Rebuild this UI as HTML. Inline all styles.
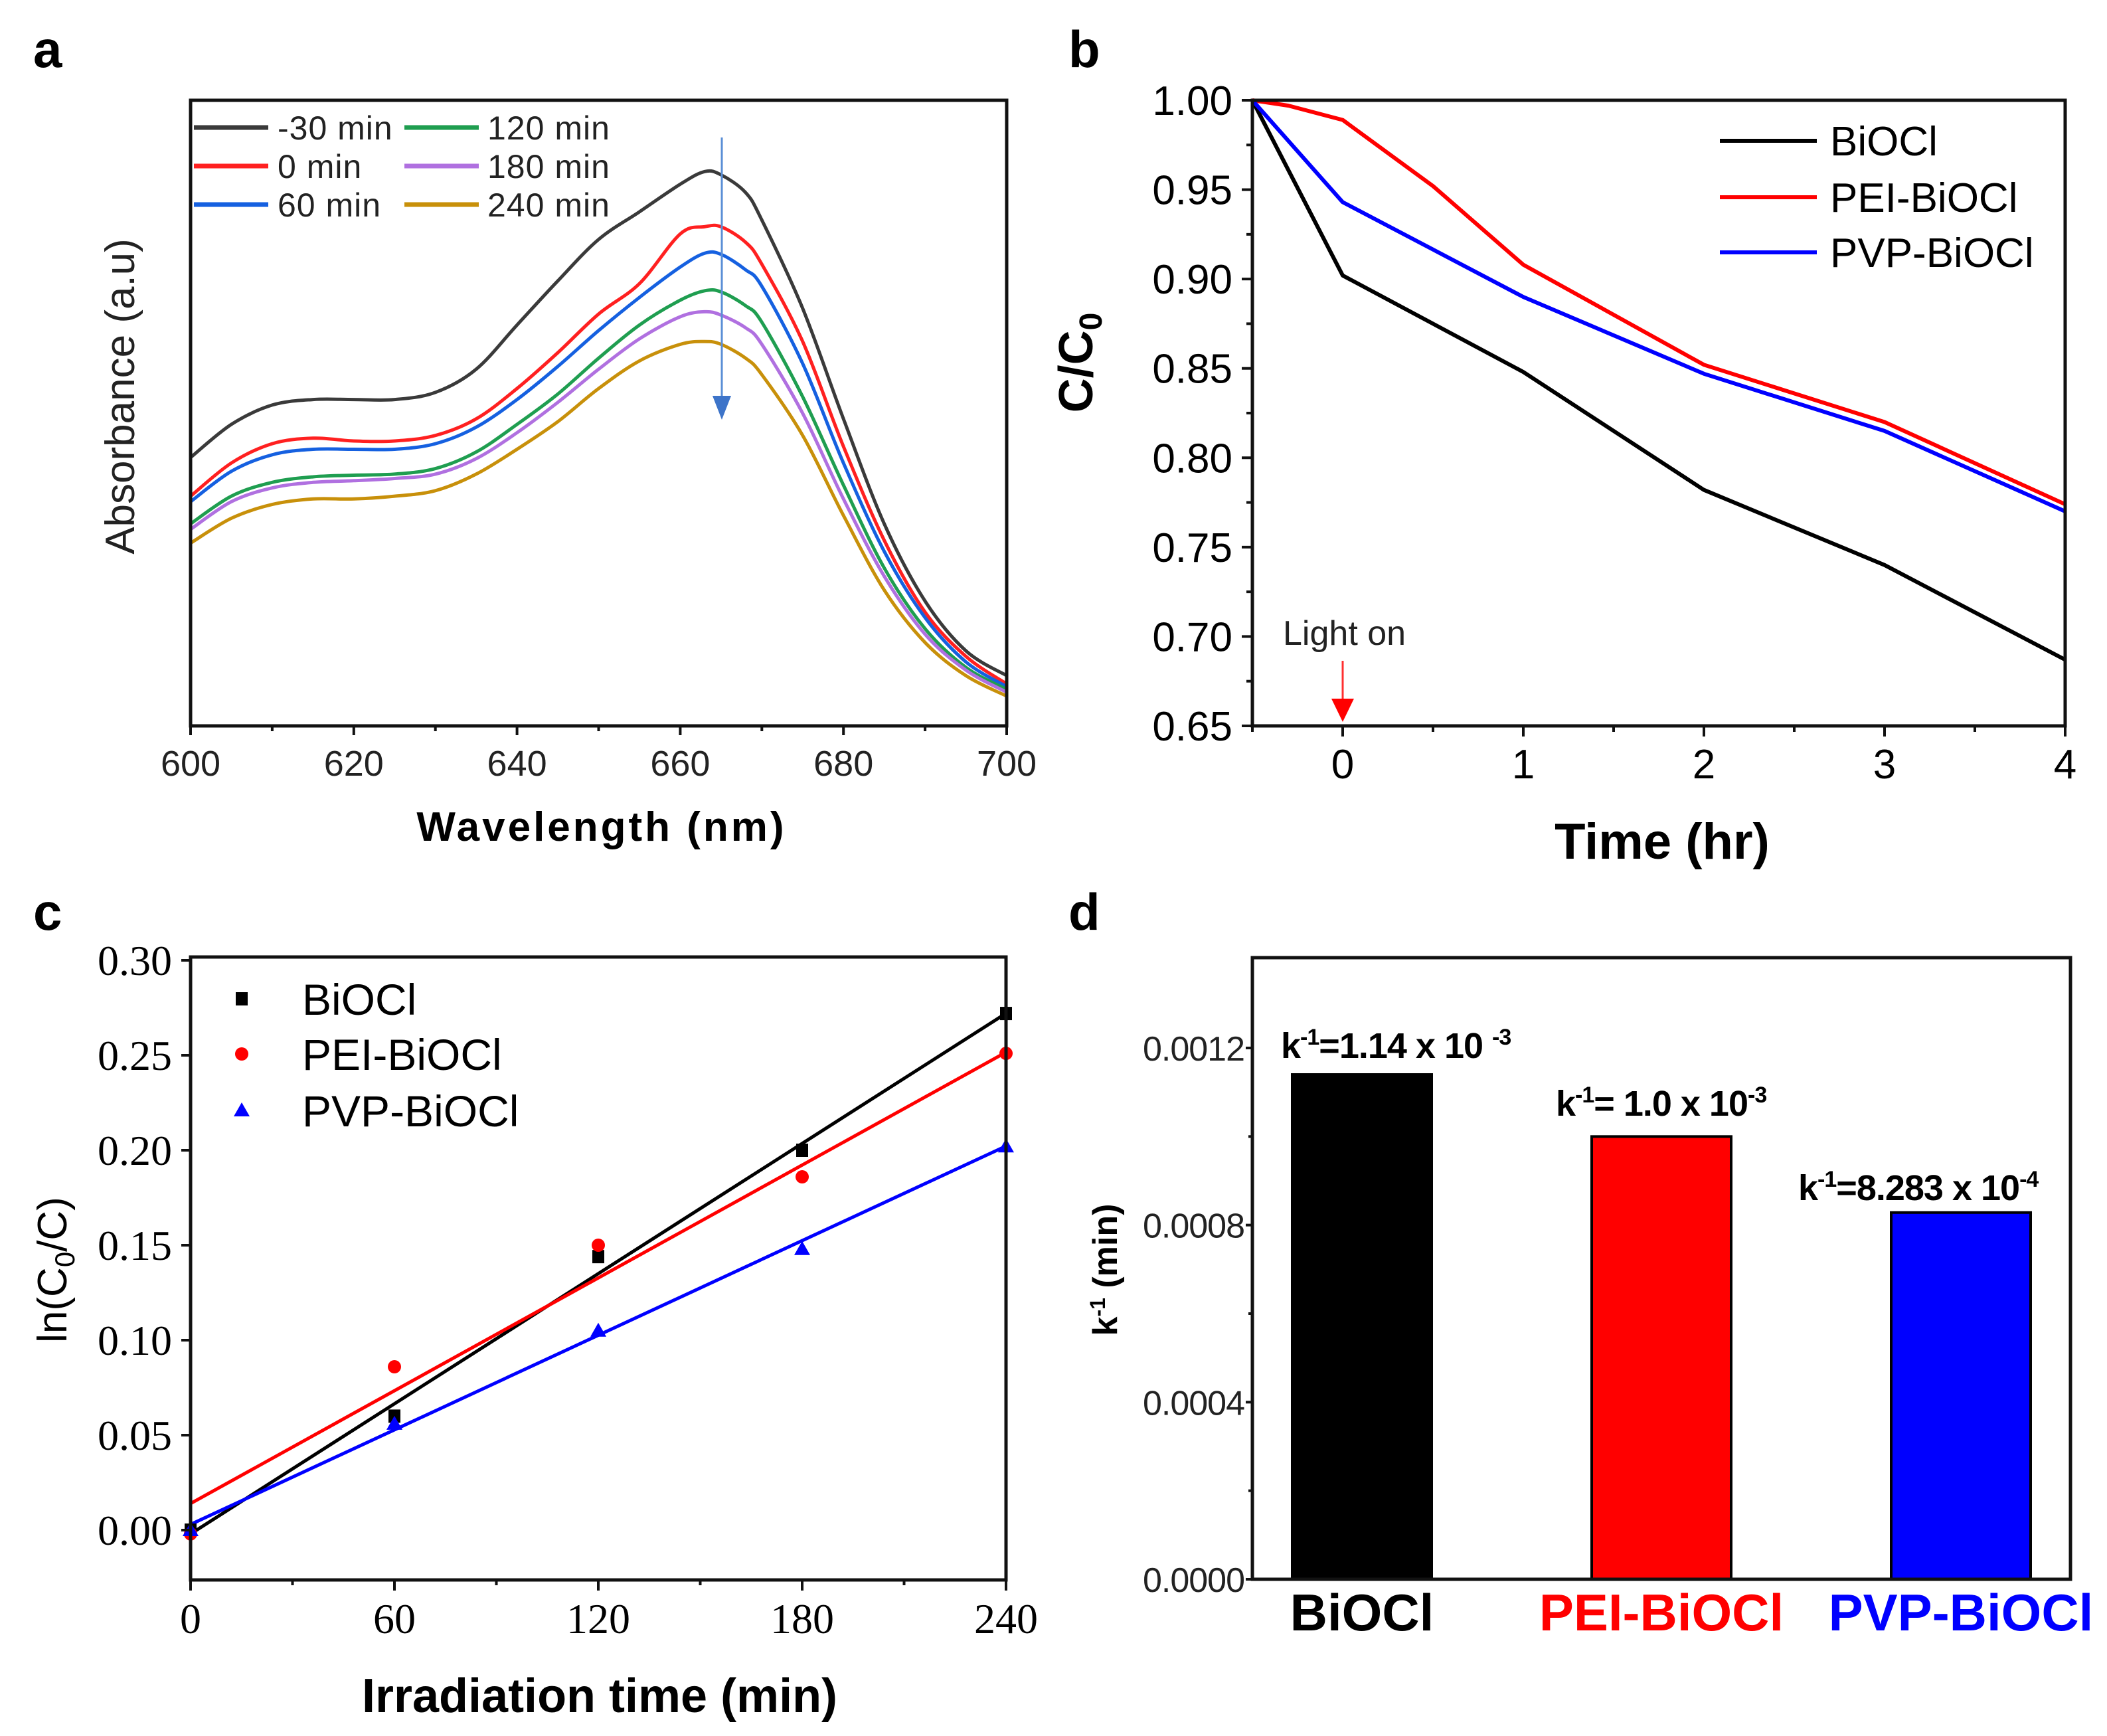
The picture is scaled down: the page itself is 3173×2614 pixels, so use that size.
<!DOCTYPE html>
<html><head><meta charset="utf-8"><style>
html,body{margin:0;padding:0;background:#fff;}
svg{display:block;}
text{font-family:"Liberation Sans",sans-serif;}
.serif{font-family:"Liberation Serif",serif;}
</style></head><body>
<svg id="fig" width="3173" height="2614" viewBox="0 0 3173 2614" xmlns="http://www.w3.org/2000/svg">
<g id="pa"></g>
<g id="pb"></g>
<g id="pc"></g>
<g id="pd"></g>
</svg>
<script>
// ---------- Panel a data ----------
const wl = [600,605,610,615,620,625,630,635,640,645,650,655,660,663,665,668,670,675,680,685,690,695,700];
const absM30 = [486,546,581,591,591,591,604,646,726,806,881,931,981,1004,998,966,916,756,556,366,226,136,91];
const abs0 = [416,476,511,521,516,516,526,556,611,676,746,801,891,904,904,876,836,696,506,336,206,126,76];
const abs60 = [406,461,491,501,501,501,511,541,591,651,716,776,831,856,854,826,796,656,476,316,196,116,71];
const abs120 = [366,416,441,451,454,456,466,496,546,601,666,726,771,788,786,761,731,596,436,286,176,106,66];
const abs180 = [356,406,431,441,444,448,456,484,531,586,646,701,741,750,744,721,691,566,411,271,166,101,61];
const abs240 = [331,376,401,411,411,416,426,456,501,551,611,661,691,696,691,666,636,526,381,246,151,91,54];
const aLabels = ["-30 min","0 min","60 min","120 min","180 min","240 min"];
const aTicks = [600,620,640,660,680,700];
// ---------- Panel b data ----------
const tB = [-0.5,0,1,2,3,4];
const cBiOCl = [1.0,0.902,0.848,0.782,0.740,0.687];
const tPEI = [-0.5,-0.3,0,0.5,1,2,3,4];
const cPEI = [1.0,0.997,0.989,0.952,0.908,0.852,0.820,0.774];
const cPVP = [1.0,0.943,0.890,0.847,0.815,0.770];
const bYTicks = [0.65,0.70,0.75,0.80,0.85,0.90,0.95,1.00];
const bXTicks = [0,1,2,3,4];
const seriesNames = ["BiOCl","PEI-BiOCl","PVP-BiOCl"];
// ---------- Panel c data ----------
const tC = [0,60,120,180,240];
const lnBiOCl = [0.0,0.060,0.144,0.200,0.272];
const lnPEI = [-0.002,0.086,0.150,0.186,0.251];
const lnPVP = [0.0,0.056,0.105,0.148,0.202];
const fitSlope = [0.001142,0.00099,0.00083];
const fitIntercept = [-0.002,0.014,0.003];
const cYTicks = [0.00,0.05,0.10,0.15,0.20,0.25,0.30];
const cXTicks = [0,60,120,180,240];
// ---------- Panel d data ----------
const dCats = ["BiOCl","PEI-BiOCl","PVP-BiOCl"];
const dVals = [0.00114,0.0010,0.0008283];
const dYTicks = [0.0000,0.0004,0.0008,0.0012];

const NS="http://www.w3.org/2000/svg";
function mk(parent,tag,attrs,txt){const e=document.createElementNS(NS,tag);for(const k in attrs)e.setAttribute(k,attrs[k]);if(txt!==undefined)e.textContent=txt;parent.appendChild(e);return e;}
function smooth(P){let d='M'+P[0][0].toFixed(1)+','+P[0][1].toFixed(1);
 for(let i=0;i<P.length-1;i++){const p0=P[Math.max(0,i-1)],p1=P[i],p2=P[i+1],p3=P[Math.min(P.length-1,i+2)];
  const c1=[p1[0]+(p2[0]-p0[0])/6,p1[1]+(p2[1]-p0[1])/6],c2=[p2[0]-(p3[0]-p1[0])/6,p2[1]-(p3[1]-p1[1])/6];
  d+='C'+c1[0].toFixed(1)+','+c1[1].toFixed(1)+' '+c2[0].toFixed(1)+','+c2[1].toFixed(1)+' '+p2[0].toFixed(1)+','+p2[1].toFixed(1);}
 return d;}
const colors6=["#3a3a3a","#ff2020","#1560e0","#1f9e50","#b070e0","#c8900a"];
const col3=["#000","#ff0000","#0000ff"];

// ===== Panel a =====
(function(){
const g=document.getElementById('pa');
const L=287,R=1516,T=151,B=1093;
const x=v=>L+(v-600)/100*(R-L);
const y=v=>B-v/1133*(B-T);
let e;
e=mk(g,'text',{x:50,y:101,'font-size':78,'font-weight':'bold'},'a');


const all=[absM30,abs0,abs60,abs120,abs180,abs240];
all.forEach((s,i)=>{
 const d=smooth(s.map((v,j)=>[x(wl[j]),y(v)]));
 e=mk(g,'path',{d:d,fill:'none',stroke:colors6[i],'stroke-width':5});
 
 
});
e=mk(g,'rect',{x:L,y:T,width:R-L,height:B-T,fill:'none',stroke:'#111','stroke-width':5});


for(let v=600;v<=700;v+=10){
 const major=(v%20===0);
 e=mk(g,'line',{x1:x(v),x2:x(v),y1:B,y2:B+(major?14:8),stroke:'#111','stroke-width':4});
 
 
}
aTicks.forEach(v=>{
 e=mk(g,'text',{x:x(v),y:1168,'font-size':54,'text-anchor':'middle',fill:'#222'},String(v));
 
 
});
e=mk(g,'text',{x:906,y:1266,'font-size':62,'font-weight':'bold','text-anchor':'middle','letter-spacing':4},'Wavelength (nm)');


e=mk(g,'text',{x:0,y:0,'font-size':62,'text-anchor':'middle',fill:'#222',transform:'translate(202,597) rotate(-90)'},'Absorbance (a.u)');


const rows=[192,250,308];
aLabels.forEach((lab,i)=>{
 const col=Math.floor(i/3),r=i%3;
 const lx=col?609:292, tx=col?734:418;
 e=mk(g,'line',{x1:lx,x2:lx+112,y1:rows[r],y2:rows[r],stroke:colors6[i],'stroke-width':7});
 
 
 e=mk(g,'text',{x:tx,y:rows[r]+18,'font-size':50,fill:'#222','letter-spacing':1},lab);
 
 
});
e=mk(g,'line',{x1:1087,x2:1087,y1:207,y2:600,stroke:'#5b8fd6','stroke-width':3});


e=mk(g,'path',{d:'M1073,596 L1101,596 L1087,632 Z',fill:'#3d74c9'});


})();

// ===== Panel b =====
(function(){
const g=document.getElementById('pb');
const L=1886,R=3110,T=151,B=1093;
const x=v=>L+(v+0.5)/4.5*(R-L);
const y=v=>B-(v-0.65)/0.35*(B-T);
let e;
e=mk(g,'text',{x:1609,y:101,'font-size':78,'font-weight':'bold'},'b');


const sets=[[tB,cBiOCl],[tPEI,cPEI],[tB,cPVP]];
sets.forEach((s,i)=>{
 const d=s[1].map((v,j)=>(j?'L':'M')+x(s[0][j]).toFixed(1)+','+y(v).toFixed(1)).join('');
 e=mk(g,'path',{d:d,fill:'none',stroke:col3[i],'stroke-width':6,'stroke-linejoin':'round'});
 
 
});
e=mk(g,'rect',{x:L,y:T,width:R-L,height:B-T,fill:'none',stroke:'#111','stroke-width':5});


for(let k=0;k<=14;k++){const v=0.65+k*0.025;const major=k%2===0;
 e=mk(g,'line',{x1:L-(major?16:9),x2:L,y1:y(v),y2:y(v),stroke:'#111','stroke-width':4});
 
 }
for(let k=0;k<=9;k++){const v=-0.5+k*0.5;const major=(Math.abs(v-Math.round(v))<1e-6);
 e=mk(g,'line',{x1:x(v),x2:x(v),y1:B,y2:B+(major?16:9),stroke:'#111','stroke-width':4});
 
 }
bYTicks.forEach(v=>{
 e=mk(g,'text',{x:1856,y:y(v)+22,'font-size':62,'text-anchor':'end'},v.toFixed(2));
 
 
});
bXTicks.forEach(v=>{
 e=mk(g,'text',{x:x(v),y:1172,'font-size':62,'text-anchor':'middle'},String(v));
 
 
});
e=mk(g,'text',{x:2503,y:1293,'font-size':76,'font-weight':'bold','text-anchor':'middle'},'Time (hr)');


e=mk(g,'text',{x:0,y:0,'font-size':72,'font-weight':'bold','text-anchor':'middle',transform:'translate(1645,546) rotate(-90)'});


mk(e,'tspan',{},'C/C');mk(e,'tspan',{'font-size':48,dy:14},'0');
const rows=[212,297,380];
seriesNames.forEach((n,i)=>{
 e=mk(g,'line',{x1:2590,x2:2736,y1:rows[i],y2:rows[i],stroke:col3[i],'stroke-width':6});
 
 
 e=mk(g,'text',{x:2756,y:rows[i]+22,'font-size':62},n);
 
 
});
e=mk(g,'text',{x:1932,y:971,'font-size':52,fill:'#222'},'Light on');


e=mk(g,'line',{x1:x(0),x2:x(0),y1:995,y2:1055,stroke:'#ff3030','stroke-width':3});


e=mk(g,'path',{d:`M${x(0)-17},1052 L${x(0)+17},1052 L${x(0)},1087 Z`,fill:'#ff0000'});


})();

// ===== Panel c =====
(function(){
const g=document.getElementById('pc');
const L=287,R=1515,T=1441,B=2379;
const x=v=>L+v/240*(R-L);
const y=v=>2304-v*2860;
let e;
e=mk(g,'text',{x:50,y:1400,'font-size':78,'font-weight':'bold'},'c');


fitSlope.forEach((s,i)=>{
 e=mk(g,'line',{x1:x(0),y1:y(fitIntercept[i]),x2:x(240),y2:y(fitIntercept[i]+s*240),stroke:col3[i],'stroke-width':5});
 
 
});
const pts=[lnBiOCl,lnPEI,lnPVP];
pts.forEach((s,i)=>{
 s.forEach((v,j)=>{
  const px=x(tC[j]),py=y(v);
  if(i===0) e=mk(g,'rect',{x:px-9,y:py-10,width:18,height:20,fill:'#000'});
  else if(i===1) e=mk(g,'circle',{cx:px,cy:py,r:10,fill:'#ff0000'});
  else e=mk(g,'path',{d:`M${px},${py-12} L${px+12},${py+9} L${px-12},${py+9} Z`,fill:'#0000ff'});
  
  
 });
});
e=mk(g,'rect',{x:L,y:T,width:R-L,height:B-T,fill:'none',stroke:'#111','stroke-width':5});


cYTicks.forEach(v=>{
 e=mk(g,'line',{x1:L-14,x2:L,y1:y(v),y2:y(v),stroke:'#111','stroke-width':4});
 
 
 e=mk(g,'text',{x:259,y:y(v)+22,'font-size':64,'text-anchor':'end',class:'serif'},v.toFixed(2));
 
 
});
for(let v=0;v<=240;v+=30){const major=v%60===0;
 e=mk(g,'line',{x1:x(v),x2:x(v),y1:B,y2:B+(major?16:8),stroke:'#111','stroke-width':4});
 
 }
cXTicks.forEach(v=>{
 e=mk(g,'text',{x:x(v),y:2459,'font-size':64,'text-anchor':'middle',class:'serif'},String(v));
 
 
});
e=mk(g,'text',{x:903,y:2578,'font-size':72,'font-weight':'bold','text-anchor':'middle'},'Irradiation time (min)');


e=mk(g,'text',{x:0,y:0,'font-size':62,'text-anchor':'middle',transform:'translate(100,1912) rotate(-90)'});


mk(e,'tspan',{},'ln(C');mk(e,'tspan',{'font-size':42,dy:12},'0');mk(e,'tspan',{dy:-12},'/C)');
const rows=[1504,1587,1672];
seriesNames.forEach((n,i)=>{
 const px=364,py=rows[i];
 if(i===0) e=mk(g,'rect',{x:px-9,y:py-10,width:18,height:20,fill:'#000'});
 else if(i===1) e=mk(g,'circle',{cx:px,cy:py,r:10,fill:'#ff0000'});
 else e=mk(g,'path',{d:`M${px},${py-12} L${px+12},${py+9} L${px-12},${py+9} Z`,fill:'#0000ff'});
 
 
 e=mk(g,'text',{x:455,y:py+24,'font-size':66},n);
 
 
});
})();

// ===== Panel d =====
(function(){
const g=document.getElementById('pd');
const L=1886,R=3118,T=1442,B=2378;
const y=v=>B-v*(800/0.0012);
const cx=i=>2051+i*451;
const bw=210;
let e;
e=mk(g,'text',{x:1609,y:1400,'font-size':78,'font-weight':'bold'},'d');


dVals.forEach((v,i)=>{
 e=mk(g,'rect',{x:cx(i)-bw/2,y:y(v),width:bw,height:B-y(v),fill:col3[i],stroke:'#000','stroke-width':4});
 
 
});
e=mk(g,'rect',{x:L,y:T,width:R-L,height:B-T,fill:'none',stroke:'#111','stroke-width':5});


for(let k=0;k<=6;k++){const v=k*0.0002;const major=k%2===0;
 e=mk(g,'line',{x1:L-(major?10:6),x2:L,y1:y(v),y2:y(v),stroke:'#111','stroke-width':4});
 
 }
dYTicks.forEach(v=>{
 e=mk(g,'text',{x:1874,y:y(v)+19,'font-size':52,'text-anchor':'end',fill:'#222','letter-spacing':-1},v.toFixed(4));
 
 
});
dCats.forEach((n,i)=>{
 e=mk(g,'text',{x:cx(i),y:2455,'font-size':78,'font-weight':'bold','text-anchor':'middle',fill:col3[i]},n);
 
 
});
const labs=[{x:1929,y:1593,m:'=1.14 x 10 ',p:'-3'},{x:2343,y:1680,m:'= 1.0 x 10',p:'-3'},{x:2708,y:1807,m:'=8.283 x 10',p:'-4'}];
labs.forEach((l,i)=>{
 e=mk(g,'text',{x:l.x,y:l.y,'font-size':54,'font-weight':'bold','letter-spacing':-1});
 
 
 mk(e,'tspan',{},'k');mk(e,'tspan',{'font-size':34,dy:-20},'-1');mk(e,'tspan',{dy:20},l.m);mk(e,'tspan',{'font-size':34,dy:-20},l.p);
});
e=mk(g,'text',{x:0,y:0,'font-size':52,'font-weight':'bold','text-anchor':'middle',transform:'translate(1682,1912) rotate(-90)'});


mk(e,'tspan',{},'k');mk(e,'tspan',{'font-size':32,dy:-18},'-1');mk(e,'tspan',{dy:18},' (min)');
})();
</script>
</body></html>
